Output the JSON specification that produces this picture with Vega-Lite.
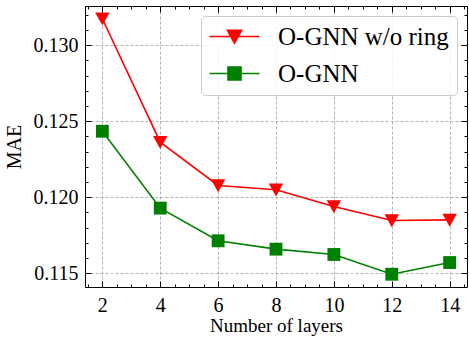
{
  "$schema": "https://vega.github.io/schema/vega-lite/v6.json",
  "width": 382,
  "height": 281,
  "autosize": "none",
  "padding": {"left": 85, "top": 6, "right": 2, "bottom": 50},
  "background": "white",
  "config": {
    "font": "Liberation Serif",
    "view": {"stroke": "black", "strokeWidth": 1},
    "axis": {
      "labelFont": "Liberation Serif",
      "titleFont": "Liberation Serif",
      "labelFontSize": 20,
      "titleFontSize": 20,
      "titleFontWeight": "normal",
      "labelColor": "black",
      "titleColor": "black",
      "tickColor": "black",
      "domain": false
    },
    "legend": {
      "labelFont": "Liberation Serif",
      "labelFontSize": 25,
      "labelColor": "black",
      "labelLimit": 400
    }
  },
  "data": {
    "values": [
      {"layers": 2, "mae": 0.13174, "model": "O-GNN w/o ring"},
      {"layers": 4, "mae": 0.12362, "model": "O-GNN w/o ring"},
      {"layers": 6, "mae": 0.12077, "model": "O-GNN w/o ring"},
      {"layers": 8, "mae": 0.12049, "model": "O-GNN w/o ring"},
      {"layers": 10, "mae": 0.11939, "model": "O-GNN w/o ring"},
      {"layers": 12, "mae": 0.11847, "model": "O-GNN w/o ring"},
      {"layers": 14, "mae": 0.11851, "model": "O-GNN w/o ring"},
      {"layers": 2, "mae": 0.12434, "model": "O-GNN"},
      {"layers": 4, "mae": 0.11928, "model": "O-GNN"},
      {"layers": 6, "mae": 0.11713, "model": "O-GNN"},
      {"layers": 8, "mae": 0.11658, "model": "O-GNN"},
      {"layers": 10, "mae": 0.11623, "model": "O-GNN"},
      {"layers": 12, "mae": 0.11493, "model": "O-GNN"},
      {"layers": 14, "mae": 0.11570, "model": "O-GNN"}
    ]
  },
  "resolve": {"axis": {"x": "independent", "y": "independent"}},
  "layer": [
    {
      "transform": [{"filter": "datum.model === 'O-GNN w/o ring'"}],
      "mark": {"type": "line", "strokeWidth": 1.6, "color": "#ff0000"},
      "encoding": {
        "x": {
          "field": "layers", "type": "quantitative",
          "scale": {"domain": [1.4, 14.6], "nice": false, "zero": false},
          "axis": {
            "orient": "bottom", "values": [2, 4, 6, 8, 10, 12, 14],
            "tickSize": -6, "labelPadding": 14, "grid": true,
            "gridDash": [3, 2], "gridColor": "#a0a0a0", "gridWidth": 0.8,
            "title": "Number of layers", "titlePadding": 1, "titleFontSize": 19
          }
        },
        "y": {
          "field": "mae", "type": "quantitative",
          "scale": {"domain": [0.11409, 0.13258], "nice": false, "zero": false},
          "axis": {
            "orient": "left", "values": [0.115, 0.12, 0.125, 0.13],
            "format": ".3f", "tickSize": -6, "labelPadding": 13, "grid": true,
            "gridDash": [3, 2], "gridColor": "#a0a0a0", "gridWidth": 0.8,
            "title": "MAE", "titlePadding": 9
          }
        }
      }
    },
    {
      "transform": [{"filter": "datum.model === 'O-GNN'"}],
      "mark": {"type": "line", "strokeWidth": 1.6, "color": "#008000"},
      "encoding": {
        "x": {"field": "layers", "type": "quantitative", "axis": null},
        "y": {"field": "mae", "type": "quantitative", "axis": null}
      }
    },
    {
      "transform": [{"filter": "datum.model === 'O-GNN w/o ring'"}],
      "mark": {"type": "point", "filled": true, "opacity": 1, "size": 170, "color": "#ff0000", "shape": "M-1.1,-0.95L1.1,-0.95L0,1.05Z"},
      "encoding": {
        "x": {
          "field": "layers", "type": "quantitative",
          "axis": {"orient": "top", "values": [2, 4, 6, 8, 10, 12, 14], "tickSize": -6, "labels": false, "grid": false, "title": null}
        },
        "y": {
          "field": "mae", "type": "quantitative",
          "axis": {"orient": "right", "values": [0.115, 0.12, 0.125, 0.13], "tickSize": -6, "labels": false, "grid": false, "title": null}
        }
      }
    },
    {
      "transform": [{"filter": "datum.model === 'O-GNN'"}],
      "mark": {"type": "point", "filled": true, "opacity": 1, "size": 165, "color": "#008000", "shape": "square"},
      "encoding": {
        "x": {"field": "layers", "type": "quantitative", "axis": null},
        "y": {"field": "mae", "type": "quantitative", "axis": null}
      }
    },
    {
      "mark": {"type": "point", "opacity": 0, "size": 170},
      "encoding": {
        "x": {
          "field": "layers", "type": "quantitative",
          "axis": {"orient": "bottom", "values": [1.5, 2.5, 3, 3.5, 4.5, 5, 5.5, 6.5, 7, 7.5, 8.5, 9, 9.5, 10.5, 11, 11.5, 12.5, 13, 13.5, 14.5], "tickSize": -3, "labels": false, "grid": false, "title": null}
        },
        "y": {
          "field": "mae", "type": "quantitative",
          "axis": {"orient": "left", "values": [0.116, 0.117, 0.118, 0.119, 0.121, 0.122, 0.123, 0.124, 0.126, 0.127, 0.128, 0.129, 0.131, 0.132], "tickSize": -3, "labels": false, "grid": false, "title": null}
        },
        "fill": {
          "field": "model", "type": "nominal",
          "scale": {"domain": ["O-GNN w/o ring", "O-GNN"], "range": ["#ff0000", "#008000"]}
        },
        "stroke": {
          "field": "model", "type": "nominal",
          "scale": {"domain": ["O-GNN w/o ring", "O-GNN"], "range": ["#ff0000", "#008000"]}
        },
        "shape": {
          "field": "model", "type": "nominal",
          "scale": {
            "domain": ["O-GNN w/o ring", "O-GNN"],
            "range": ["M-3.83,0L3.83,0M-1.08,-0.95L1.08,-0.95L0,1.0Z", "M-3.83,0L3.83,0M-1.0,-1.0L1.0,-1.0L1.0,1.0L-1.0,1.0Z"]
          },
          "legend": {
            "title": null,
            "orient": "top-right",
            "offset": 10,
            "padding": 8,
            "rowPadding": 11,
            "symbolSize": 170,
            "symbolOpacity": 1,
            "symbolStrokeWidth": 1.6,
            "symbolOffset": 13,
            "labelOffset": 31,
            "fillColor": "rgba(255,255,255,0.85)",
            "strokeColor": "#cccccc",
            "cornerRadius": 4,
            "labelLimit": 400,
            "labelFont": "Liberation Serif",
            "labelFontSize": 25,
            "labelColor": "black"
          }
        }
      }
    },
    {
      "mark": {"type": "point", "opacity": 0},
      "encoding": {
        "x": {
          "field": "layers", "type": "quantitative",
          "axis": {"orient": "top", "values": [1.5, 2.5, 3, 3.5, 4.5, 5, 5.5, 6.5, 7, 7.5, 8.5, 9, 9.5, 10.5, 11, 11.5, 12.5, 13, 13.5, 14.5], "tickSize": -3, "labels": false, "grid": false, "title": null}
        },
        "y": {
          "field": "mae", "type": "quantitative",
          "axis": {"orient": "right", "values": [0.116, 0.117, 0.118, 0.119, 0.121, 0.122, 0.123, 0.124, 0.126, 0.127, 0.128, 0.129, 0.131, 0.132], "tickSize": -3, "labels": false, "grid": false, "title": null}
        }
      }
    }
  ]
}
